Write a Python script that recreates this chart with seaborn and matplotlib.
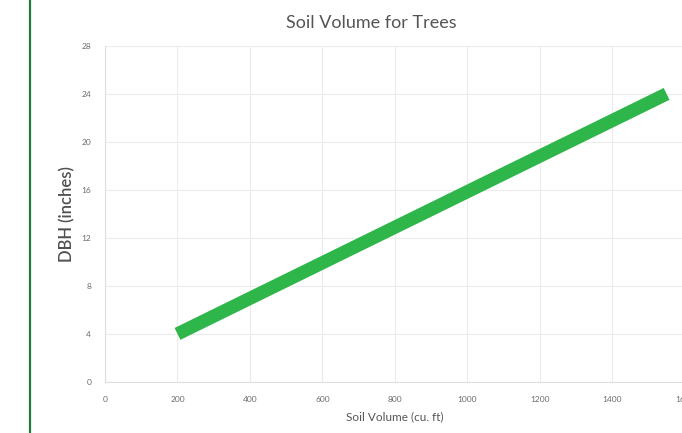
import matplotlib
matplotlib.use("Agg")
import matplotlib.pyplot as plt
from matplotlib.lines import Line2D
import pandas as pd
import seaborn as sns

soil_volume = [200, 1550]
dbh = [4, 24]
x_ticks = [0, 200, 400, 600, 800, 1000, 1200, 1400, 1600]
y_ticks = [0, 4, 8, 12, 16, 20, 24, 28]


def main():
    sns.set_style("whitegrid")
    plt.rcParams['font.family'] = ['Lato', 'DejaVu Sans']

    df = pd.DataFrame({'soil': soil_volume, 'dbh': dbh})

    fig = plt.figure(figsize=(6.82, 4.33), dpi=100)
    ax = fig.add_axes([0.154, 0.118, 0.850, 0.776])

    sns.lineplot(data=df, x='soil', y='dbh', ax=ax, color='#2fb64a',
                 linewidth=9.5, solid_capstyle='butt')

    ax.set_xlim(0, 1600)
    ax.set_ylim(0, 28)
    ax.set_xticks(x_ticks)
    ax.set_yticks(y_ticks)
    ax.tick_params(axis='both', labelsize=6, colors='#6b6b6b', length=0, pad=10)
    ax.grid(True, color='#ececec', linewidth=0.8)
    for side in ['top', 'right']:
        ax.spines[side].set_visible(False)
    for side in ['left', 'bottom']:
        ax.spines[side].set_color('#dedede')
        ax.spines[side].set_linewidth(0.8)

    ax.set_xlabel('Soil Volume (cu. ft)', fontsize=8.5, color='#555555', labelpad=6)
    ax.set_ylabel('DBH (inches)', fontsize=12, color='#505050', labelpad=4,
                  fontweight='semibold')
    fig.text(0.545, 0.948, 'Soil Volume for Trees', ha='center', va='center',
             fontsize=13, color='#555555')

    # green border on the left
    fig.add_artist(Line2D([30 / 682, 30 / 682], [0, 1], transform=fig.transFigure,
                          color='#1f7a3c', linewidth=1.6))

    fig.savefig('out.png', dpi=100)


if __name__ == "__main__":
    main()
